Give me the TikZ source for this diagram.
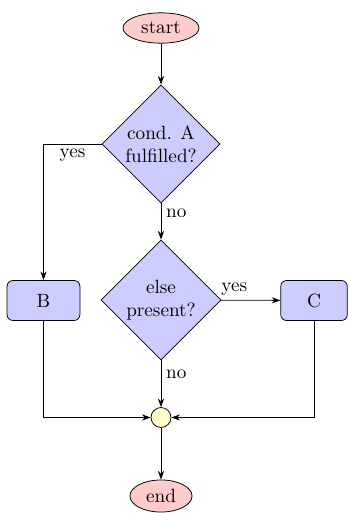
\documentclass[tikz,border=0pt]{standalone}
\usetikzlibrary{shapes.geometric,arrows.meta}
\begin{document}
\begin{tikzpicture}[x=0.5208pt,y=-0.5208pt,
  terminal/.style={ellipse,draw,fill=red!20,inner sep=0pt,minimum width=39.6pt,minimum height=15.8pt},
  decision/.style={diamond,draw,fill=blue!20,inner sep=0pt,align=center,minimum width=61.5pt,minimum height=61.5pt},
  process/.style={rectangle,draw,fill=blue!20,rounded corners=3pt,minimum height=20.8pt},
  junction/.style={circle,draw,fill=yellow!20,inner sep=0pt,minimum size=10.4pt},
  flow/.style={-{Stealth[length=4.5pt,width=3.2pt]}},
  lbl/.style={inner sep=2.5pt}]
  \useasboundingbox (0,0) rectangle (348,513);
  \node[terminal] (start) at (161,28) {start};
  \node[decision] (condA) at (161,144) {cond. A\\fulfilled?};
  \node[decision,minimum width=62.5pt,minimum height=62.5pt] (other) at (161,300) {else\\present?};
  \node[process,minimum width=37.9pt] (B) at (43.5,300.5) {B};
  \node[process,minimum width=34.6pt] (C) at (314,300.5) {C};
  \node[junction] (join) at (161,417.5) {};
  \node[terminal,minimum width=32.3pt,minimum height=16.7pt] (stop) at (161,496) {end};

  \draw[flow] (start) -- (condA);
  \draw[flow] (condA) -| node[pos=0.25,below,lbl] {yes} (B);
  \draw[flow] (condA) -- node[pos=0.28,right,lbl] {no} (other);
  \draw[flow] (other) -- node[pos=0.22,above,lbl] {yes} (C);
  \draw[flow] (other) -- node[pos=0.3,right,lbl] {no} (join);
  \draw[flow] (B) |- (join);
  \draw[flow] (C) |- (join);
  \draw[flow] (join) -- (stop);
\end{tikzpicture}
\end{document}
